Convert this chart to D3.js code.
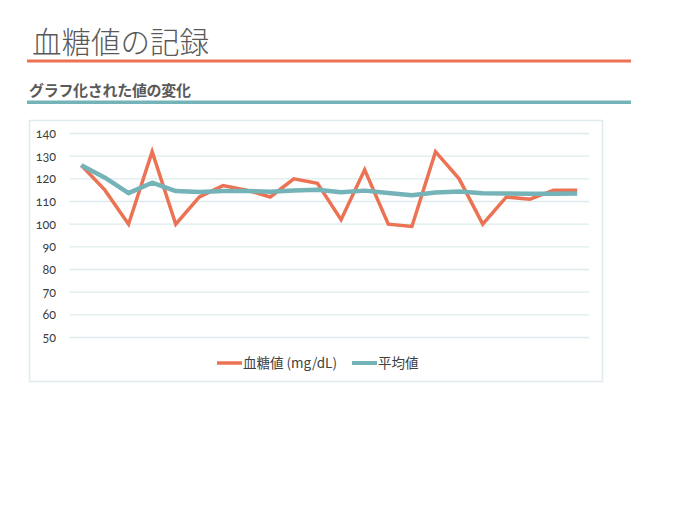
<!DOCTYPE html>
<html>
<head>
<meta charset="utf-8">
<script src="https://cdn.jsdelivr.net/npm/d3@7.9.0/dist/d3.min.js"></script>
<style>
  body { margin: 0; background: #fff; }
  svg { display: block; }
</style>
</head>
<body>
<svg id="chart" width="675" height="520"></svg>
<script>
// values
const days = d3.range(1, 23).map(String);
const glucose = [126, 115, 100, 132, 100, 112, 117, 115, 112, 120, 118, 102, 124, 100, 99, 132, 120, 100, 112, 111, 115, 115];
const average = [126, 120.5, 113.7, 118.3, 114.6, 114.2, 114.6, 114.6, 114.3, 114.9, 115.2, 114.1, 114.8, 113.8, 112.8, 114, 114.4, 113.6, 113.5, 113.4, 113.4, 113.5];
const yTicks = [50, 60, 70, 80, 90, 100, 110, 120, 130, 140];
const seriesNames = ['血糖値 (mg/dL)', '平均値'];

const red = '#EC7254';
const teal = '#74B3B7';
const font = '"Noto Sans CJK JP", "Noto Sans", sans-serif';

const svg = d3.select('#chart');

// heading
svg.append('text')
  .attr('x', 32).attr('y', 52.5)
  .attr('font-family', font).attr('font-weight', 300)
  .attr('font-size', 29.5).attr('fill', '#595959')
  .text('血糖値の記録');
svg.append('rect').attr('x', 27).attr('y', 59.5).attr('width', 604).attr('height', 3).attr('fill', red);

svg.append('text')
  .attr('x', 29).attr('y', 96)
  .attr('font-family', font).attr('font-weight', 700)
  .attr('font-size', 15).attr('fill', '#595959')
  .attr('letter-spacing', -0.3)
  .text('グラフ化された値の変化');
svg.append('rect').attr('x', 27).attr('y', 100.5).attr('width', 604).attr('height', 3.5).attr('fill', teal);

// chart frame
svg.append('rect')
  .attr('x', 29.5).attr('y', 120.5).attr('width', 573).attr('height', 261)
  .attr('fill', '#fff').attr('stroke', '#DDEBEC').attr('stroke-width', 1.5);

const x = d3.scaleBand().domain(days).range([69.5, 589]);
const y = d3.scaleLinear().domain([50, 140]).range([337.5, 133.5]);

const grid = svg.append('g');
grid.selectAll('line').data(yTicks).join('line')
  .attr('x1', 69.5).attr('x2', 589)
  .attr('y1', d => y(d)).attr('y2', d => y(d))
  .attr('stroke', '#DDEBEC').attr('stroke-width', 1.3);

const yAxis = svg.append('g')
  .attr('transform', 'translate(56,0)')
  .call(d3.axisLeft(y).tickValues(yTicks).tickSize(0).tickPadding(0));
yAxis.select('.domain').remove();
yAxis.selectAll('text')
  .attr('font-family', 'Lato, "Noto Sans", sans-serif')
  .attr('font-size', 12.5).attr('fill', '#404040')
  .style('font-variant-numeric', 'oldstyle-nums');

const line = d3.line()
  .x((d, i) => x(days[i]) + x.bandwidth() / 2)
  .y(d => y(d));

svg.append('path').datum(glucose)
  .attr('d', line).attr('fill', 'none')
  .attr('stroke', red).attr('stroke-width', 3.5)
  .attr('stroke-linejoin', 'miter').attr('stroke-linecap', 'butt');

svg.append('path').datum(average)
  .attr('d', line).attr('fill', 'none')
  .attr('stroke', teal).attr('stroke-width', 4.5)
  .attr('stroke-linejoin', 'round').attr('stroke-linecap', 'butt');

// legend
const legend = svg.append('g').attr('font-family', font).attr('font-size', 13.5).attr('fill', '#404040');
const legendX = [217, 352];
[red, teal].forEach((c, i) => {
  legend.append('line')
    .attr('x1', legendX[i]).attr('x2', legendX[i] + 25)
    .attr('y1', 363).attr('y2', 363)
    .attr('stroke', c).attr('stroke-width', i ? 4 : 3.5);
  legend.append('text')
    .attr('x', legendX[i] + 26).attr('y', 368)
    .text(seriesNames[i]);
});
</script>
</body>
</html>
